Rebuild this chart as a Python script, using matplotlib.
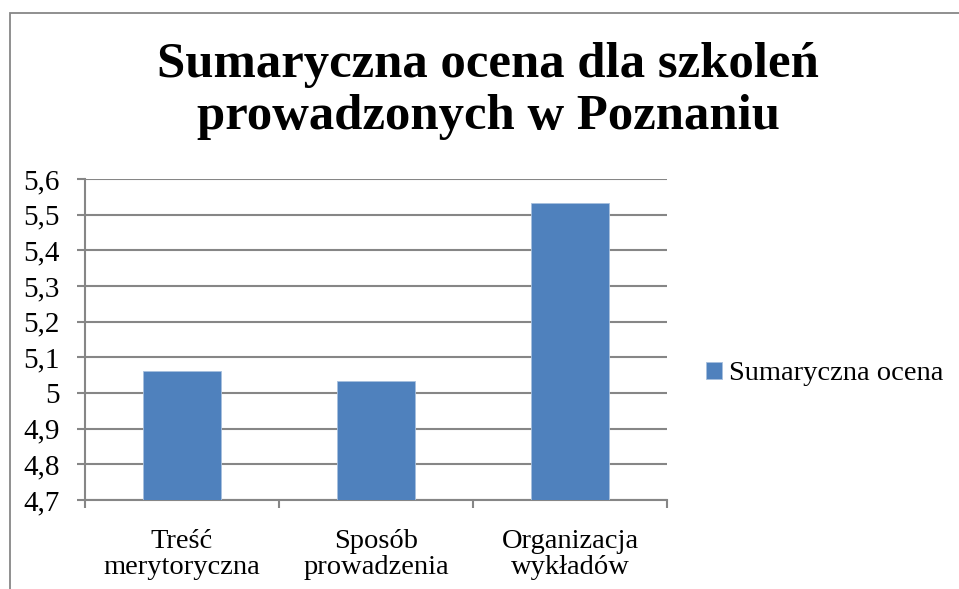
import matplotlib
matplotlib.use("Agg")
import matplotlib.pyplot as plt
from matplotlib.patches import Rectangle
from matplotlib.ticker import FuncFormatter, FixedLocator, NullFormatter

plt.rcParams['font.family'] = ['Liberation Serif', 'DejaVu Serif']

categories = ["Treść\nmerytoryczna", "Sposób\nprowadzenia", "Organizacja\nwykładów"]
values = [5.062, 5.034, 5.532]
series_name = "Sumaryczna ocena"
title_lines = ["Sumaryczna ocena dla szkoleń", "prowadzonych w Poznaniu"]

W, H = 959, 589
fig = plt.figure(figsize=(W / 100, H / 100), dpi=100)
fig.patch.set_facecolor("white")

# outer chart border (cropped on right and bottom)
fig.patches.append(Rectangle((9.5 / W, -0.1), 1.2, 1 - 12.5 / H + 0.1,
                             transform=fig.transFigure, fill=False,
                             edgecolor="#878787", linewidth=1.3))

ax = fig.add_axes([85 / W, 1 - 500 / H, (667 - 85) / W, (500 - 179) / H])
x = list(range(len(categories)))
ax.bar(x, values, width=0.4, color="#4F81BD", edgecolor="#a7c0de",
       linewidth=0.6, zorder=3, label=series_name)

ax.set_ylim(4.7, 5.6)
ax.set_xlim(-0.5, 2.5)
ax.set_yticks([4.7 + 0.1 * i for i in range(10)])
ax.yaxis.set_major_formatter(FuncFormatter(
    lambda v, p: ("%.1f" % v).replace(".", ",").replace(",0", "")))
ax.grid(axis="y", color="#868686", linewidth=1.5, zorder=0)

ax.xaxis.set_major_locator(FixedLocator([-0.5, 0.5, 1.5, 2.5]))
ax.xaxis.set_major_formatter(NullFormatter())
ax.set_xticks(x, minor=True)
ax.set_xticklabels(categories, minor=True, fontsize=20.5, linespacing=1.03)
ax.tick_params(axis="x", which="minor", length=0, pad=21)
ax.tick_params(axis="x", which="major", length=6, width=1.5, color="#868686")
ax.tick_params(axis="y", length=6, width=1.5, color="#868686",
               labelsize=21, pad=12)

for s in ["top", "right"]:
    ax.spines[s].set_visible(False)
for s in ["left", "bottom"]:
    ax.spines[s].set_color("#868686")
    ax.spines[s].set_linewidth(1.5)

fig.text(488 / W, 1 - 77 / H, title_lines[0], ha="center", va="baseline",
         fontsize=36.5, fontweight="bold")
fig.text(488 / W, 1 - 129 / H, title_lines[1], ha="center", va="baseline",
         fontsize=36.5, fontweight="bold")

fig.legend(loc="center left", bbox_to_anchor=(706 / W, 1 - 374 / H),
           frameon=False, fontsize=20.5, handlelength=0.55, handleheight=0.55,
           handletextpad=0.25, borderpad=0, borderaxespad=0)

fig.savefig("out.png", dpi=100)
